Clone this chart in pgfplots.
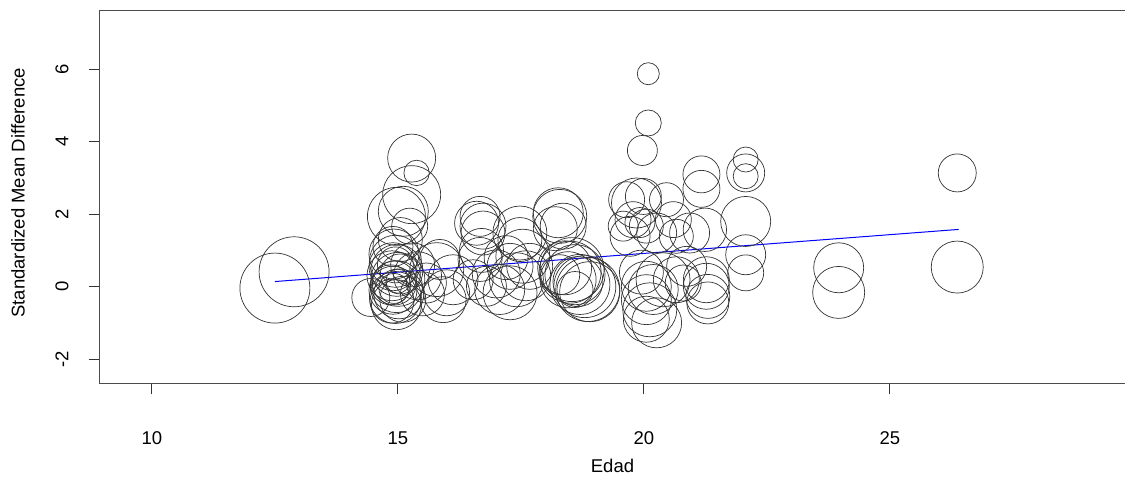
\documentclass[border=0pt]{standalone}
\usepackage{fontspec}
\setmainfont{Liberation Sans}
\usepackage{pgfplots}
\pgfplotsset{compat=1.18}
\usepackage{pgfplotstable}
\pgfplotstableread{
x y r
12.50 -0.04 35
12.89 0.41 35
14.45 -0.30 19
14.92 0.90 25
14.95 0.70 26
14.90 0.55 24
14.98 0.45 26
14.88 0.30 25
15.00 0.20 27
14.93 0.10 22
14.97 0.00 26
14.90 -0.10 24
15.02 -0.20 25
14.95 -0.30 26
14.88 -0.40 22
14.97 -0.50 25
15.05 0.35 20
14.92 -0.05 15
15.00 0.15 12
14.95 0.60 18
15.10 -0.35 23
14.85 0.05 20
14.90 1.11 20
14.97 1.94 29
15.11 2.08 25
15.24 1.67 18
15.28 2.54 29
15.28 3.55 24
15.38 3.14 12.7
15.05 1.30 22
15.79 0.47 27
15.92 -0.36 23
15.85 0.75 20
15.58 0.10 20
15.40 0.30 24
15.50 -0.20 22
15.30 0.60 22
16.12 0.19 25
15.99 -0.17 23
16.67 1.94 20
16.73 1.67 23
16.73 1.48 22
16.60 1.75 22
16.67 0.75 22
16.53 0.19 20
16.80 0.01 20
16.70 1.00 22
17.48 1.48 27
17.48 1.30 22
17.54 0.84 27
17.41 0.19 27
17.28 -0.17 27
17.68 0.56 23
17.60 0.30 25
17.28 0.56 23
17.07 -0.08 25
17.20 0.80 22
17.00 0.35 24
18.29 1.94 27
18.26 2.04 25
18.36 1.67 23
18.20 1.60 22
18.54 0.47 32
18.60 0.33 30
18.46 0.19 28
18.70 0.06 30
18.86 -0.08 32
18.90 -0.14 30
18.39 0.52 27
18.66 0.14 25
18.29 0.33 20
18.60 -0.08 18
18.50 0.40 31
18.80 0.00 31
19.65 2.40 18
19.99 2.49 18
20.46 2.40 17
19.78 1.85 18
19.92 1.77 15
20.05 1.67 17
19.72 1.39 20
20.26 1.48 20
20.60 1.85 18
20.66 1.39 17
19.58 1.67 15
19.85 2.31 25
20.93 1.48 20
20.19 -0.08 25
20.39 0.19 27
20.66 0.19 23
20.12 -0.64 27
20.26 -1.00 25
20.05 -0.36 25
20.05 0.01 25
20.05 -0.90 23
20.87 0.56 20
20.80 0.10 18
19.95 0.40 22
20.09 5.88 11
20.09 4.52 13
19.97 3.76 15
21.17 3.10 18.5
21.17 2.70 18.5
21.24 1.57 21.7
21.27 0.01 23
21.30 -0.27 22
21.27 0.19 23
21.30 -0.45 21
22.07 3.51 12.5
22.07 3.05 12.5
22.07 3.14 19
22.07 1.80 25
22.07 0.88 20
22.07 0.38 18
23.96 0.52 25
23.96 -0.16 26
26.37 3.14 19
26.37 0.54 26
}\studies
\begin{document}
\fontsize{9.25pt}{11pt}\selectfont
\begin{tikzpicture}
\useasboundingbox (0,0) rectangle (562.5pt,238.5pt);
\begin{axis}[
  at={(50pt,46.85pt)}, anchor=south west,
  scale only axis, width=512.5pt, height=186.3pt,
  xmin=8.945, xmax=29.78, ymin=-2.67, ymax=7.62,
  xtick={10,15,20,25}, xticklabels={10,15,20,25},
  ytick={-2,0,2,4,6}, yticklabels={-2,0,2,4,6},
  tick align=outside, tick pos=left,
  major tick length=5.5pt,
  axis line style={black!70, line width=0.5pt},
  tick style={black!80, line width=0.5pt},
  xticklabel style={anchor=center, yshift=-22pt, font=\fontsize{9.25pt}{11pt}\selectfont},
  yticklabel style={xshift=-13.5pt, rotate=90, anchor=center, font=\fontsize{9.25pt}{11pt}\selectfont},
  xlabel={Edad},
  ylabel={Standardized Mean Difference},
  xlabel style={at={(axis description cs:0.5,-0.222)}, anchor=center, font=\fontsize{9.25pt}{11pt}\selectfont},
  ylabel style={at={(axis description cs:-0.08,0.511)}, anchor=center, font=\fontsize{9.25pt}{11pt}\selectfont},
  clip=true,
]
\addplot[scatter, only marks, mark=o, line width=0.35pt,
  scatter/use mapped color={draw=black!80, fill=none},
  visualization depends on={0.5*\thisrow{r} \as \rad},
  scatter/@pre marker code/.append style={/tikz/mark size=\rad pt}]
  table[x=x, y=y, meta=r] {\studies};
\addplot[blue, line width=0.5pt] coordinates {(12.5,0.14) (26.4,1.58)};
\end{axis}
\end{tikzpicture}
\end{document}
